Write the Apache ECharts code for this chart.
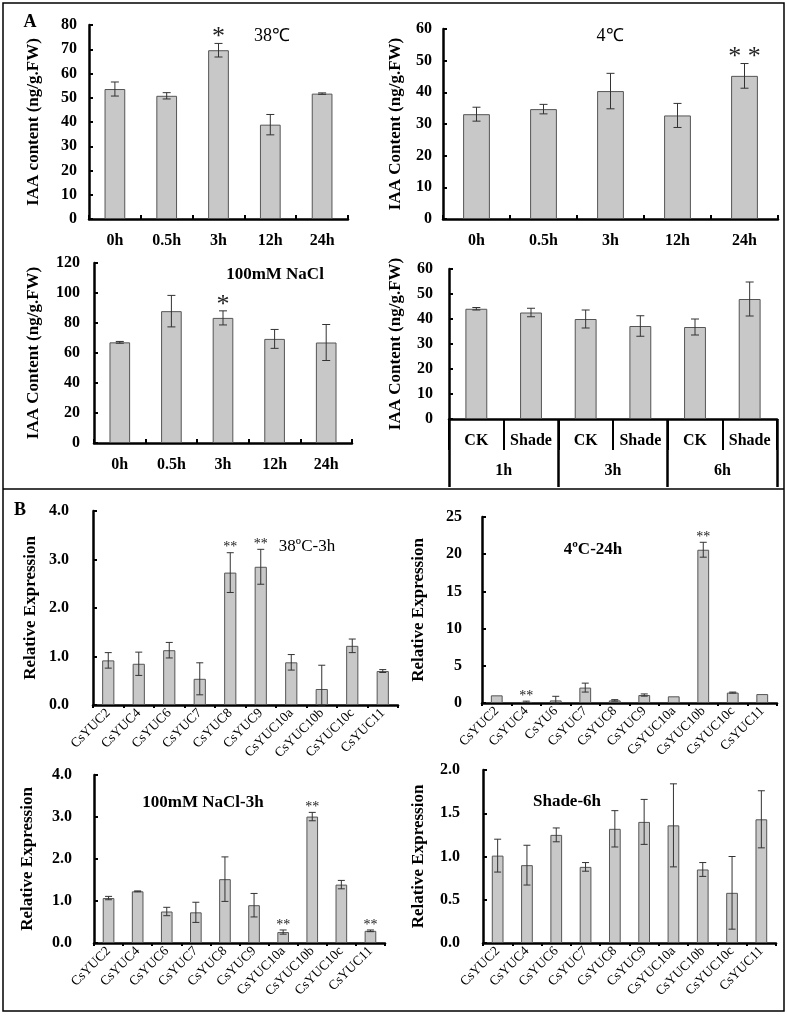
<!DOCTYPE html>
<html lang="en">
<head>
<meta charset="UTF-8">
<title>IAA content and CsYUC expression</title>
<script src="https://cdn.jsdelivr.net/npm/echarts@6/dist/echarts.min.js"></script>
<style>
  html, body { margin: 0; padding: 0; background: #fff; }
  #main { width: 787px; height: 1019px; }
</style>
</head>
<body>
<div id="main"></div>
<script>
// ---- data ----
var hours = ['0h', '0.5h', '3h', '12h', '24h'];

var heat38 = [53.6, 50.8, 69.6, 38.9, 51.7];
var heat38Err = [2.9, 1.3, 2.8, 4.2, 0.3];
var heat38Sig = ['', '', '*', '', ''];

var cold4 = [33.1, 34.7, 40.4, 32.7, 45.2];
var cold4Err = [2.2, 1.5, 5.6, 3.8, 3.9];
var cold4Sig = ['', '', '', '', '* *'];

var salt = [67.1, 87.9, 83.4, 69.4, 67.0];
var saltErr = [0.6, 10.5, 4.7, 6.3, 12.0];
var saltSig = ['', '', '*', '', ''];

var shadeCats = ['CK', 'Shade', 'CK', 'Shade', 'CK', 'Shade'];
var shadeTimes = ['1h', '3h', '6h'];
var shade = [44.1, 42.6, 40.0, 37.2, 36.8, 48.0];
var shadeErr = [0.5, 1.7, 3.6, 4.1, 3.2, 6.8];
var shadeSig = ['', '', '', '', '', ''];

var genes = ['CsYUC2', 'CsYUC4', 'CsYUC6', 'CsYUC7', 'CsYUC8', 'CsYUC9', 'CsYUC10a', 'CsYUC10b', 'CsYUC10c', 'CsYUC11'];
var genesCold = ['CsYUC2', 'CsYUC4', 'CsYU6', 'CsYUC7', 'CsYUC8', 'CsYUC9', 'CsYUC10a', 'CsYUC10b', 'CsYUC10c', 'CsYUC11'];

var exp38 = [0.92, 0.85, 1.13, 0.54, 2.73, 2.85, 0.88, 0.33, 1.22, 0.70];
var exp38Err = [0.16, 0.24, 0.16, 0.33, 0.41, 0.36, 0.16, 0.49, 0.14, 0.03];
var exp38Sig = ['', '', '', '', '**', '**', '', '', '', ''];

var exp4 = [1.03, 0.15, 0.35, 2.07, 0.35, 1.07, 0.90, 20.6, 1.40, 1.20];
var exp4Err = [0.05, 0.10, 0.55, 0.60, 0.10, 0.15, 0.03, 1.0, 0.07, 0];
var exp4Sig = ['', '**', '', '', '', '', '', '**', '', ''];

var expSalt = [1.07, 1.23, 0.75, 0.73, 1.52, 0.90, 0.26, 3.01, 1.39, 0.29];
var expSaltErr = [0.04, 0.01, 0.10, 0.24, 0.53, 0.28, 0.05, 0.10, 0.10, 0.02];
var expSaltSig = ['', '', '', '', '', '', '**', '**', '', '**'];

var expShade = [1.01, 0.90, 1.25, 0.88, 1.32, 1.40, 1.36, 0.85, 0.58, 1.43];
var expShadeErr = [0.19, 0.23, 0.08, 0.05, 0.21, 0.26, 0.48, 0.08, 0.42, 0.33];
var expShadeSig = ['', '', '', '', '', '', '', '', '', ''];

// ---- helpers ----
var SERIF = '"Liberation Serif", "Times New Roman", serif';

function yAx(grid, max, step, name, gap, dec, labelMargin, fs) {
    return {
        type: 'value', gridIndex: grid, min: 0, max: max, interval: step,
        name: name, nameLocation: 'middle', nameGap: gap,
        nameTextStyle: { fontFamily: SERIF, fontWeight: 'bold', fontSize: 17, color: '#000' },
        axisLine: { show: true, lineStyle: { color: '#000', width: 2.5 } },
        axisTick: { show: true, inside: true, length: 4, lineStyle: { color: '#000', width: 2 } },
        splitLine: { show: false },
        axisLabel: {
            margin: labelMargin, color: '#000', fontFamily: SERIF, fontWeight: 'bold', fontSize: fs,
            formatter: function (v) { return dec ? v.toFixed(dec) : String(v); }
        }
    };
}

function xAx(grid, cats, rotated) {
    return {
        type: 'category', gridIndex: grid, data: cats,
        axisLine: { lineStyle: { color: '#000', width: 2.5 } },
        axisTick: { show: true, inside: !rotated, length: rotated ? 3 : 4, lineStyle: { color: '#000', width: 2 } },
        axisLabel: rotated
            ? { rotate: 45, margin: 6, interval: 0, color: '#000', fontFamily: SERIF, fontSize: 13.5 }
            : { margin: 14, interval: 0, color: '#000', fontFamily: SERIF, fontWeight: 'bold', fontSize: 16 }
    };
}

function barSeries(idx, vals) {
    return {
        type: 'bar', xAxisIndex: idx, yAxisIndex: idx, data: vals, barWidth: '40%',
        itemStyle: { color: '#c8c8c8', borderColor: '#555', borderWidth: 1 },
        animation: false
    };
}

function errSeries(idx, vals, errs, sigs, cap, sigSize, sigGap) {
    return {
        type: 'custom', xAxisIndex: idx, yAxisIndex: idx, z: 5, animation: false,
        data: vals.map(function (v, i) { return [i, Math.max(0, v - errs[i]), v + errs[i]]; }),
        renderItem: function (params, api) {
            var lo = api.coord([api.value(0), api.value(1)]);
            var hi = api.coord([api.value(0), api.value(2)]);
            var x = hi[0];
            var st = { stroke: '#333', lineWidth: 1 };
            var kids = [];
            if (lo[1] - hi[1] > 0.8) {
                kids.push({ type: 'line', shape: { x1: x, y1: hi[1], x2: x, y2: lo[1] }, style: st });
                kids.push({ type: 'line', shape: { x1: x - cap, y1: hi[1], x2: x + cap, y2: hi[1] }, style: st });
                kids.push({ type: 'line', shape: { x1: x - cap, y1: lo[1], x2: x + cap, y2: lo[1] }, style: st });
            }
            var s = sigs[params.dataIndex];
            if (s) {
                kids.push({
                    type: 'text', x: x, y: hi[1] - sigGap,
                    style: { text: s, fill: '#222', font: sigSize + 'px ' + SERIF, textAlign: 'center', textVerticalAlign: 'middle' }
                });
            }
            return { type: 'group', children: kids };
        }
    };
}

function label(x, y, text, size, bold) {
    return {
        type: 'text', x: x, y: y, z: 10,
        style: { text: text, fill: '#000', font: (bold ? 'bold ' : '') + size + 'px ' + SERIF, textAlign: 'center', textVerticalAlign: 'middle' }
    };
}

var chart = echarts.init(document.getElementById('main'));

// shade panel: second category axis for the time groups
var timeAxis = {
    type: 'category', gridIndex: 3, data: shadeTimes, position: 'bottom',
    axisLine: { show: false },
    axisTick: { show: true, length: 68, lineStyle: { color: '#000', width: 2.5 } },
    axisLabel: { margin: 44, interval: 0, color: '#000', fontFamily: SERIF, fontWeight: 'bold', fontSize: 16 }
};
var ckAxis = xAx(3, shadeCats, false);
ckAxis.axisTick = { show: true, length: 31, lineStyle: { color: '#000', width: 2 } };
ckAxis.axisLabel.margin = 14;

var option = {
    backgroundColor: '#fff',
    animation: false,
    grid: [
        { left: 89, top: 25, width: 259, height: 194 },
        { left: 443, top: 29, width: 335, height: 190 },
        { left: 94, top: 263, width: 258, height: 180 },
        { left: 449, top: 269, width: 328, height: 150 },
        { left: 93, top: 511, width: 305, height: 194 },
        { left: 482, top: 517, width: 295, height: 186 },
        { left: 94, top: 775, width: 291, height: 168 },
        { left: 483, top: 770, width: 293, height: 173 }
    ],
    xAxis: [
        xAx(0, hours, false),
        xAx(1, hours, false),
        xAx(2, hours, false),
        ckAxis,
        xAx(4, genes, true),
        xAx(5, genesCold, true),
        xAx(6, genes, true),
        xAx(7, genes, true),
        timeAxis
    ],
    yAxis: [
        yAx(0, 80, 10, 'IAA content (ng/g.FW)', 47, 0, 12, 16),
        yAx(1, 60, 10, 'IAA Content (ng/g.FW)', 39, 0, 11, 16),
        yAx(2, 120, 20, 'IAA Content (ng/g.FW)', 52, 0, 14, 16),
        yAx(3, 60, 10, 'IAA Content (ng/g.FW)', 45, 0, 16, 16),
        yAx(4, 4, 1, 'Relative Expression', 54, 1, 24, 16),
        yAx(5, 25, 5, 'Relative Expression', 55, 0, 20, 16),
        yAx(6, 4, 1, 'Relative Expression', 58, 1, 22, 16),
        yAx(7, 2, 0.5, 'Relative Expression', 56, 1, 23, 16)
    ],
    series: [
        barSeries(0, heat38), errSeries(0, heat38, heat38Err, heat38Sig, 4, 26, 6),
        barSeries(1, cold4), errSeries(1, cold4, cold4Err, cold4Sig, 4, 26, 6),
        barSeries(2, salt), errSeries(2, salt, saltErr, saltSig, 4, 26, 6),
        barSeries(3, shade), errSeries(3, shade, shadeErr, shadeSig, 4, 26, 6),
        barSeries(4, exp38), errSeries(4, exp38, exp38Err, exp38Sig, 3.5, 14, 5),
        barSeries(5, exp4), errSeries(5, exp4, exp4Err, exp4Sig, 3.5, 14, 5),
        barSeries(6, expSalt), errSeries(6, expSalt, expSaltErr, expSaltSig, 3.5, 14, 5),
        barSeries(7, expShade), errSeries(7, expShade, expShadeErr, expShadeSig, 3.5, 14, 5)
    ],
    graphic: [
        { type: 'rect', shape: { x: 3, y: 3, width: 781, height: 1008 }, style: { fill: 'none', stroke: '#000', lineWidth: 1.5 } },
        { type: 'line', shape: { x1: 3, y1: 489, x2: 784, y2: 489 }, style: { stroke: '#000', lineWidth: 1.5 } },
        label(30, 22, 'A', 18, true),
        label(20, 510, 'B', 18, true),
        label(272, 36, '38℃', 18, false),
        label(610, 36, '4℃', 18, false),
        label(275, 275, '100mM NaCl', 17, true),
        label(307, 547, '38ºC-3h', 17, false),
        label(593, 550, '4ºC-24h', 17, true),
        label(203, 803, '100mM NaCl-3h', 17, true),
        label(567, 802, 'Shade-6h', 17, true)
    ]
};

chart.setOption(option);
</script>
</body>
</html>
